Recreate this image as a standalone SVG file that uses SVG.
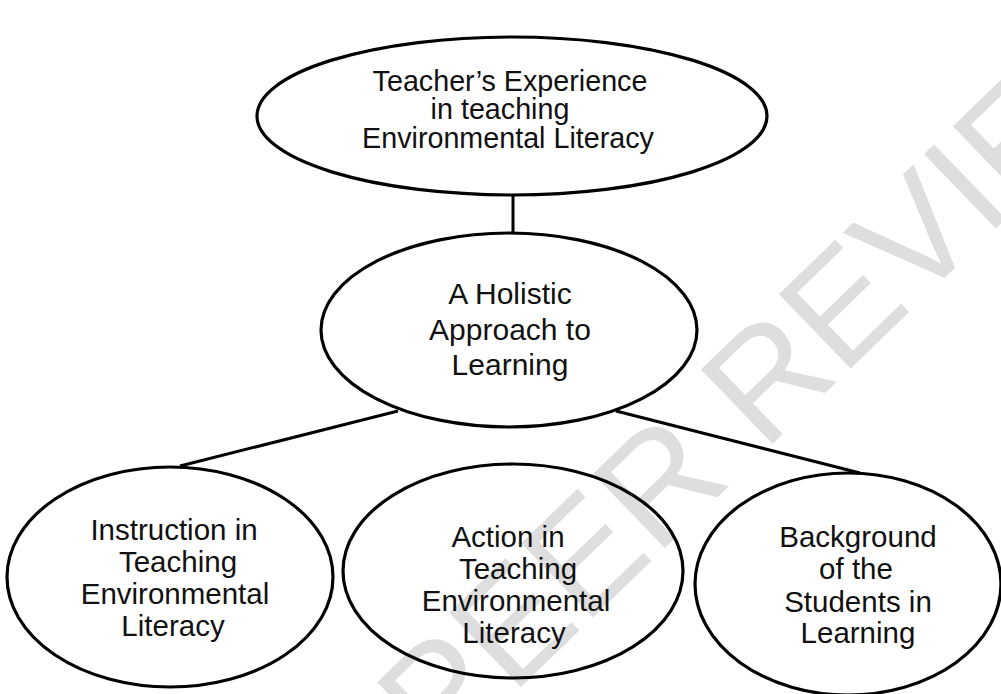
<svg xmlns="http://www.w3.org/2000/svg" width="1001" height="694" viewBox="0 0 1001 694">
<style>
.node{fill:none;stroke:#000;stroke-width:3.2}
.edge{stroke:#000;stroke-width:3;fill:none}
.t{font-family:"Liberation Sans",Arial,sans-serif;fill:#111;text-anchor:middle}
.wm{font-family:"Liberation Sans",Arial,sans-serif;fill:#dedede}
</style>
<rect width="1001" height="694" fill="#fff"/>
<text class="wm" font-size="150" transform="translate(440,765) rotate(-44)">PEER REVIEW</text>
<g id="connectors">
<line class="edge" x1="513" y1="195" x2="513" y2="234"/>
<line class="edge" x1="398" y1="411" x2="180" y2="466"/>
<line class="edge" x1="616" y1="411" x2="860" y2="473"/>
</g>
<g id="n-top">
<ellipse class="node" cx="512" cy="116" rx="255" ry="79"/>
<text class="t" font-size="28.7"><tspan x="510" y="90.5">Teacher’s Experience</tspan><tspan x="500" y="119">in teaching</tspan><tspan x="508" y="147.5">Environmental Literacy</tspan></text>
</g>
<g id="n-mid">
<ellipse class="node" cx="509" cy="330" rx="188" ry="97"/>
<text class="t" font-size="30"><tspan x="510" y="304">A Holistic</tspan><tspan x="510" y="340">Approach to</tspan><tspan x="510" y="375">Learning</tspan></text>
</g>
<g id="n-left">
<ellipse class="node" cx="170" cy="577" rx="163" ry="110"/>
<text class="t" font-size="29.5"><tspan x="174" y="540">Instruction in</tspan><tspan x="178" y="572">Teaching</tspan><tspan x="175" y="604">Environmental</tspan><tspan x="173" y="636">Literacy</tspan></text>
</g>
<g id="n-center">
<ellipse class="node" cx="513" cy="571" rx="170" ry="107"/>
<text class="t" font-size="29.5"><tspan x="508" y="547">Action in</tspan><tspan x="518" y="579">Teaching</tspan><tspan x="516" y="611">Environmental</tspan><tspan x="514" y="643">Literacy</tspan></text>
</g>
<g id="n-right">
<ellipse class="node" cx="848" cy="584" rx="153" ry="111"/>
<text class="t" font-size="29.5"><tspan x="858" y="547">Background</tspan><tspan x="856" y="579">of the</tspan><tspan x="858" y="612">Students in</tspan><tspan x="858" y="643">Learning</tspan></text>
</g>
</svg>
